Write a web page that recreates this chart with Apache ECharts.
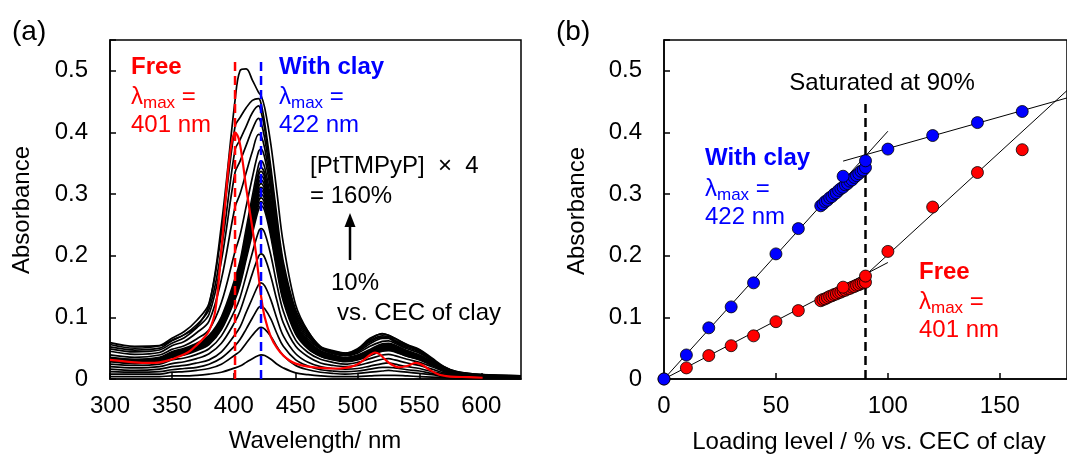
<!DOCTYPE html>
<html>
<head>
<meta charset="utf-8">
<script src="https://cdn.jsdelivr.net/npm/echarts@6/dist/echarts.min.js"></script>
<style>
html,body{margin:0;padding:0;background:#fff;}
#chart{width:1067px;height:454px;}
</style>
</head>
<body>
<div id="chart"></div>
<script>
// ---------- Panel (a): UV-vis spectra ----------
const wavelengths = [300,320,340,350,360,370,380,390,401,405,410,415,420,422,425,430,435,440,450,460,470,480,490,500,510,520,525,530,540,550,560,570,580,600,632];

const s010 = [0.004,0.004,0.004,0.005,0.005,0.006,0.008,0.011,0.018,0.021,0.027,0.033,0.038,0.039,0.038,0.032,0.024,0.018,0.010,0.007,0.005,0.004,0.004,0.004,0.005,0.006,0.006,0.006,0.005,0.004,0.003,0.002,0.001,0.001,0.000];
const s020 = [0.008,0.008,0.008,0.011,0.012,0.014,0.017,0.024,0.039,0.045,0.058,0.071,0.082,0.084,0.081,0.069,0.052,0.038,0.022,0.015,0.011,0.009,0.008,0.009,0.011,0.013,0.014,0.013,0.011,0.009,0.007,0.004,0.003,0.001,0.001];
const s030 = [0.012,0.011,0.012,0.015,0.017,0.019,0.024,0.034,0.054,0.064,0.081,0.099,0.116,0.118,0.114,0.097,0.073,0.053,0.031,0.021,0.015,0.013,0.012,0.013,0.016,0.019,0.019,0.018,0.015,0.013,0.009,0.006,0.004,0.002,0.001];
const s040 = [0.016,0.014,0.016,0.020,0.022,0.026,0.031,0.044,0.072,0.084,0.108,0.131,0.153,0.156,0.151,0.128,0.097,0.070,0.041,0.027,0.020,0.017,0.016,0.017,0.021,0.025,0.026,0.024,0.020,0.017,0.012,0.008,0.005,0.002,0.002];
const s050 = [0.020,0.018,0.020,0.025,0.028,0.033,0.041,0.058,0.093,0.110,0.140,0.171,0.199,0.203,0.197,0.166,0.126,0.091,0.053,0.036,0.026,0.022,0.020,0.022,0.027,0.032,0.033,0.031,0.026,0.022,0.016,0.010,0.006,0.003,0.002];
const s060 = [0.024,0.022,0.024,0.031,0.034,0.040,0.049,0.070,0.112,0.132,0.168,0.205,0.239,0.244,0.237,0.200,0.151,0.110,0.063,0.043,0.032,0.027,0.024,0.027,0.033,0.039,0.040,0.038,0.032,0.027,0.020,0.012,0.007,0.004,0.002];
const s070 = [0.028,0.025,0.028,0.035,0.039,0.046,0.056,0.080,0.129,0.152,0.194,0.236,0.275,0.281,0.273,0.230,0.174,0.126,0.073,0.049,0.037,0.031,0.028,0.031,0.038,0.045,0.046,0.044,0.037,0.031,0.022,0.014,0.008,0.004,0.003];
const dense1 = [0.029,0.026,0.029,0.036,0.040,0.048,0.058,0.082,0.132,0.156,0.199,0.242,0.282,0.288,0.279,0.236,0.179,0.130,0.075,0.050,0.037,0.032,0.029,0.032,0.039,0.046,0.048,0.045,0.037,0.032,0.023,0.014,0.009,0.005,0.003];
const dense2 = [0.029,0.026,0.029,0.037,0.041,0.049,0.059,0.084,0.135,0.159,0.203,0.247,0.288,0.294,0.285,0.241,0.182,0.132,0.076,0.051,0.038,0.032,0.029,0.032,0.040,0.047,0.049,0.046,0.038,0.032,0.024,0.015,0.009,0.005,0.003];
const dense3 = [0.030,0.027,0.030,0.038,0.042,0.050,0.060,0.086,0.138,0.162,0.207,0.252,0.294,0.300,0.291,0.246,0.186,0.135,0.078,0.053,0.039,0.033,0.030,0.033,0.041,0.048,0.050,0.047,0.039,0.033,0.024,0.015,0.009,0.005,0.003];
const dense4 = [0.031,0.028,0.031,0.038,0.043,0.050,0.061,0.087,0.141,0.165,0.211,0.257,0.300,0.306,0.297,0.251,0.190,0.138,0.080,0.054,0.040,0.034,0.031,0.034,0.041,0.049,0.050,0.047,0.040,0.034,0.024,0.015,0.009,0.005,0.003];
const dense5 = [0.031,0.028,0.031,0.039,0.044,0.051,0.062,0.089,0.143,0.168,0.215,0.261,0.305,0.311,0.302,0.255,0.193,0.140,0.081,0.054,0.040,0.034,0.031,0.034,0.042,0.050,0.051,0.048,0.040,0.034,0.025,0.016,0.009,0.005,0.003];
const dense6 = [0.032,0.029,0.032,0.040,0.044,0.052,0.063,0.090,0.146,0.171,0.219,0.266,0.311,0.317,0.307,0.260,0.197,0.143,0.082,0.055,0.041,0.035,0.032,0.035,0.043,0.051,0.052,0.049,0.041,0.035,0.025,0.016,0.010,0.005,0.003];
const dense7 = [0.032,0.029,0.032,0.040,0.045,0.053,0.065,0.092,0.149,0.174,0.223,0.271,0.317,0.323,0.313,0.265,0.200,0.145,0.084,0.057,0.042,0.036,0.032,0.036,0.044,0.052,0.053,0.050,0.042,0.036,0.026,0.016,0.010,0.005,0.003];
const dense8 = [0.033,0.030,0.033,0.041,0.046,0.054,0.066,0.094,0.152,0.178,0.228,0.277,0.323,0.330,0.320,0.271,0.205,0.149,0.086,0.058,0.043,0.036,0.033,0.036,0.045,0.053,0.054,0.051,0.043,0.036,0.026,0.017,0.010,0.005,0.003];
const dense9 = [0.034,0.030,0.034,0.042,0.047,0.056,0.067,0.096,0.155,0.182,0.233,0.283,0.330,0.337,0.327,0.276,0.209,0.152,0.088,0.059,0.044,0.037,0.034,0.037,0.045,0.054,0.056,0.052,0.044,0.037,0.027,0.017,0.010,0.005,0.003];
const dense10 = [0.034,0.031,0.034,0.043,0.048,0.057,0.069,0.098,0.158,0.185,0.237,0.288,0.336,0.343,0.333,0.281,0.213,0.154,0.089,0.060,0.045,0.038,0.034,0.038,0.046,0.055,0.057,0.053,0.045,0.038,0.027,0.017,0.010,0.005,0.003];
const s090 = [0.035,0.032,0.035,0.044,0.050,0.058,0.071,0.101,0.163,0.191,0.244,0.297,0.347,0.354,0.343,0.290,0.219,0.159,0.092,0.062,0.046,0.039,0.035,0.039,0.048,0.057,0.058,0.055,0.046,0.039,0.028,0.018,0.011,0.006,0.004];
const s100 = [0.039,0.035,0.039,0.048,0.054,0.065,0.080,0.124,0.207,0.233,0.280,0.327,0.369,0.373,0.359,0.302,0.228,0.166,0.096,0.065,0.049,0.041,0.038,0.042,0.053,0.061,0.062,0.058,0.049,0.042,0.030,0.019,0.011,0.006,0.004];
const s120 = [0.045,0.040,0.043,0.054,0.061,0.075,0.094,0.162,0.279,0.300,0.335,0.369,0.397,0.395,0.374,0.312,0.235,0.171,0.100,0.068,0.049,0.042,0.039,0.044,0.057,0.066,0.066,0.060,0.051,0.044,0.030,0.019,0.011,0.006,0.004];
const s140 = [0.049,0.044,0.047,0.058,0.067,0.083,0.105,0.192,0.335,0.353,0.379,0.405,0.423,0.416,0.390,0.323,0.244,0.178,0.104,0.071,0.050,0.043,0.040,0.046,0.060,0.068,0.067,0.062,0.053,0.046,0.031,0.019,0.011,0.007,0.005];
const s160 = [0.052,0.047,0.050,0.062,0.072,0.088,0.113,0.211,0.372,0.388,0.410,0.432,0.443,0.434,0.405,0.334,0.252,0.184,0.108,0.074,0.051,0.044,0.041,0.047,0.062,0.070,0.069,0.063,0.054,0.047,0.032,0.019,0.012,0.007,0.005];
const s180 = [0.056,0.050,0.054,0.066,0.077,0.095,0.123,0.237,0.410,0.424,0.440,0.452,0.455,0.447,0.415,0.342,0.261,0.190,0.112,0.077,0.052,0.045,0.042,0.049,0.066,0.073,0.071,0.066,0.056,0.048,0.034,0.020,0.012,0.007,0.005];
const sTop = [0.059,0.053,0.054,0.063,0.072,0.085,0.120,0.250,0.452,0.500,0.503,0.485,0.465,0.460,0.440,0.380,0.300,0.220,0.120,0.077,0.053,0.046,0.042,0.048,0.064,0.0735,0.071,0.066,0.055,0.045,0.030,0.016,0.010,0.006,0.005];

const clayingSpectra = [s010,s020,s030,s040,s050,s060,s070,dense1,dense2,dense3,dense4,dense5,dense6,dense7,dense8,dense9,dense10,s090,s100,s120,s140,s160,s180,sTop];

const freeWl  = [300,310,320,330,340,350,355,360,365,370,375,380,385,390,395,398,401,404,407,410,415,418,420,422,425,430,435,440,445,450,460,470,480,485,490,495,500,505,510,514,518,522,527,533,540,547,552,558,566,575,590,601];
const freeAbs = [0.031,0.029,0.027,0.026,0.027,0.032,0.036,0.040,0.046,0.055,0.065,0.078,0.110,0.210,0.330,0.380,0.400,0.390,0.355,0.310,0.245,0.203,0.168,0.135,0.100,0.068,0.050,0.038,0.030,0.025,0.020,0.018,0.017,0.017,0.018,0.020,0.024,0.031,0.039,0.043,0.040,0.032,0.024,0.019,0.021,0.026,0.023,0.015,0.007,0.004,0.003,0.002];

const markerWl = [401, 422];      // lambda max of free / with clay
const markerTop = 0.517;

// ---------- Panel (b): absorbance vs loading ----------
const loadingLevel = [0,10,20,30,40,50,60,70,71,72,73,74,75,76,77,78,79,80,81,82,83,84,85,86,87,88,89,90,80,90,100,120,140,160];
const absWithClay  = [0,0.039,0.083,0.117,0.156,0.203,0.244,0.281,0.284,0.288,0.290,0.294,0.296,0.300,0.302,0.306,0.309,0.311,0.315,0.317,0.321,0.323,0.327,0.330,0.333,0.337,0.339,0.343,0.329,0.354,0.373,0.395,0.416,0.434];
const absFree      = [0,0.018,0.038,0.054,0.070,0.093,0.111,0.127,0.129,0.130,0.132,0.134,0.135,0.137,0.138,0.140,0.141,0.143,0.144,0.146,0.147,0.149,0.150,0.152,0.153,0.155,0.156,0.157,0.149,0.167,0.207,0.279,0.335,0.372];

const clayFitLow  = [[0,0],[100,0.402]];
const clayFitHigh = [[80,0.3535],[180,0.456]];
const freeFitLow  = [[0,0],[100,0.189]];
const freeFitHigh = [[89.3,0.166],[180,0.468]];
const saturation  = [[90,0],[90,0.45]];

// ---------- styling ----------
const FONT = '"Liberation Sans", Arial, sans-serif';
const FS = 24;
const RED = '#ff0000', BLUE = '#0000ff';

function fmtY(v){ const r = Math.round(v*10); return Math.abs(v*10 - r) < 1e-6 ? String(r/10) : ''; }
function fmtX(v){ return (Math.abs(v % 50) < 1e-6) ? String(v) : ''; }

function xAx(gi, min, max){
  return {type:'value', gridIndex:gi, min, max, interval:50,
    axisLine:{show:true, onZero:false, lineStyle:{color:'#000', width:1.5}},
    axisTick:{show:true, inside:true, length:6, lineStyle:{color:'#000', width:1.5}},
    axisLabel:{fontSize:FS, color:'#000', fontFamily:FONT, margin:15, formatter:fmtX, showMaxLabel:false},
    splitLine:{show:false}};
}
function yAx(gi){
  return {type:'value', gridIndex:gi, min:0, max:0.55, interval:0.1,
    axisLine:{show:true, onZero:false, lineStyle:{color:'#000', width:1.5}},
    axisTick:{show:true, inside:true, length:6, lineStyle:{color:'#000', width:1.5}},
    axisLabel:{fontSize:FS, color:'#000', fontFamily:FONT, margin:22, formatter:fmtY},
    splitLine:{show:false}};
}

const series = [];
clayingSpectra.forEach((arr) => {
  series.push({type:'line', xAxisIndex:0, yAxisIndex:0, showSymbol:false, symbol:'none', smooth:0.35,
    data: wavelengths.map((w,i)=>[w, arr[i]]),
    lineStyle:{color:'#000', width:1.7}, silent:true, z:2});
});
series.push({type:'line', xAxisIndex:0, yAxisIndex:0, symbol:'none', smooth:0.35,
  data: freeWl.map((w,i)=>[w, freeAbs[i]]), lineStyle:{color:RED, width:2.2}, z:3});
markerWl.forEach((w, k) => {
  series.push({type:'line', xAxisIndex:0, yAxisIndex:0, symbol:'none',
    data:[[w,0],[w,markerTop]], lineStyle:{color: k===0?RED:BLUE, width:2.5, type:[9,5]}, z:4});
});

// panel b
[clayFitLow, clayFitHigh, freeFitLow, freeFitHigh].forEach(d => {
  series.push({type:'line', xAxisIndex:1, yAxisIndex:1, symbol:'none', data:d,
    lineStyle:{color:'#000', width:1}, z:2});
});
series.push({type:'line', xAxisIndex:1, yAxisIndex:1, symbol:'none', data:saturation,
  lineStyle:{color:'#000', width:2.5, type:[9,5]}, z:2});
series.push({type:'scatter', xAxisIndex:1, yAxisIndex:1, symbolSize:12,
  data: loadingLevel.map((x,i)=>[x, absFree[i]]),
  itemStyle:{color:RED, borderColor:'#000', borderWidth:0.8, opacity:1}, z:3});
series.push({type:'scatter', xAxisIndex:1, yAxisIndex:1, symbolSize:12,
  data: loadingLevel.map((x,i)=>[x, absWithClay[i]]),
  itemStyle:{color:BLUE, borderColor:'#000', borderWidth:0.8, opacity:1}, z:4});

// ---------- text annotations ----------
function txt(x, y, text, color, opt){
  opt = opt || {};
  const align = opt.align || 'left';
  return {type:'text', x, y, rotation: opt.rotation || 0, silent:true, z:100,
    style:{text, fill:color || '#000', fontSize: opt.size || FS, fontFamily:FONT,
      fontWeight: opt.bold ? 'bold' : 'normal',
      align, verticalAlign:'middle', textAlign:align, textVerticalAlign:'middle'}};
}
function lam(x, y, color){
  return {type:'text', x, y, silent:true, z:100,
    style:{text:'{a|λ}{b|max}{a| =}', fill:color, align:'left', verticalAlign:'middle',
      textAlign:'left', textVerticalAlign:'middle',
      rich:{
        a:{fontSize:FS, fontFamily:FONT, fill:color, color:color, lineHeight:30, verticalAlign:'middle'},
        b:{fontSize:17, fontFamily:FONT, fill:color, color:color, lineHeight:14, verticalAlign:'bottom'}
      }}};
}

const graphics = [
  txt(12, 32, '(a)', '#000', {size:28}),
  txt(556, 32, '(b)', '#000', {size:28}),
  // axis titles
  txt(22, 210, 'Absorbance', '#000', {align:'center', rotation:Math.PI/2}),
  txt(577, 211, 'Absorbance', '#000', {align:'center', rotation:Math.PI/2}),
  txt(315, 441, 'Wavelength/ nm', '#000', {align:'center'}),
  txt(869, 442, 'Loading level / % vs. CEC of clay', '#000', {align:'center'}),
  // panel a annotations
  txt(131, 67, 'Free', RED, {bold:true}),
  lam(131, 97, RED),
  txt(131, 125, '401 nm', RED),
  txt(279, 67, 'With clay', BLUE, {bold:true}),
  lam(279, 97, BLUE),
  txt(279, 125, '422 nm', BLUE),
  txt(310, 166, '[PtTMPyP]  \u00d7  4', '#000'),
  txt(310, 196, '= 160%', '#000'),
  txt(331, 283, '10%', '#000'),
  txt(337, 313, 'vs. CEC of clay', '#000'),
  {type:'line', silent:true, z:100, shape:{x1:350, y1:260, x2:350, y2:224}, style:{stroke:'#000', lineWidth:2.5}},
  {type:'polygon', silent:true, z:100, shape:{points:[[344.5,227],[355.5,227],[350,213]]}, style:{fill:'#000'}},
  // panel b annotations
  txt(882, 83, 'Saturated at 90%', '#000', {align:'center'}),
  txt(705, 158, 'With clay', BLUE, {bold:true}),
  lam(705, 189, BLUE),
  txt(705, 217, '422 nm', BLUE),
  txt(919, 272, 'Free', RED, {bold:true}),
  lam(919, 302, RED),
  txt(919, 330, '401 nm', RED)
];

const chart = echarts.init(document.getElementById('chart'), null, {renderer:'canvas'});
chart.setOption({
  animation:false,
  backgroundColor:'#fff',
  textStyle:{fontFamily:FONT},
  grid:[
    {left:110, top:40, width:411, height:339, show:true, borderColor:'#000', borderWidth:1.5, backgroundColor:'transparent'},
    {left:664, top:40, width:414, height:339, show:true, borderColor:'#000', borderWidth:1.5, backgroundColor:'transparent'}
  ],
  xAxis:[xAx(0,300,632), xAx(1,0,180)],
  yAxis:[yAx(0), yAx(1)],
  series,
  graphic:graphics
});
</script>
</body>
</html>
